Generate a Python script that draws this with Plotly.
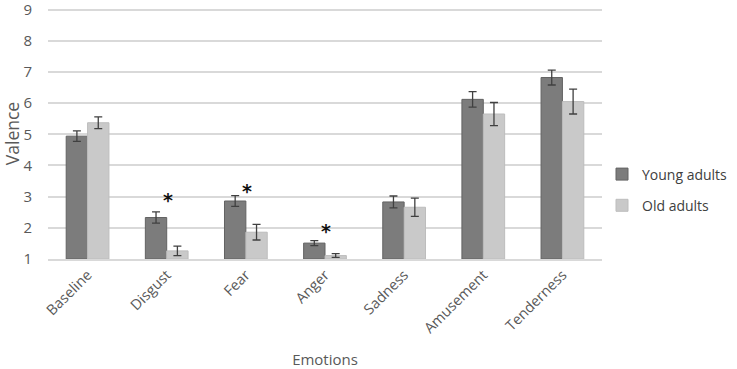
import plotly.graph_objects as go

categories = ["Baseline", "Disgust", "Fear", "Anger", "Sadness", "Amusement", "Tenderness"]
young = [4.94, 2.33, 2.86, 1.51, 2.83, 6.12, 6.82]
young_err = [0.17, 0.18, 0.17, 0.08, 0.19, 0.25, 0.24]
old = [5.37, 1.26, 1.86, 1.11, 2.66, 5.65, 6.05]
old_err = [0.19, 0.15, 0.25, 0.06, 0.29, 0.37, 0.40]
star_cats = ["Disgust", "Fear", "Anger"]
star_y = [2.89, 3.18, 1.90]
y_ticks = [1, 2, 3, 4, 5, 6, 7, 8, 9]

fig = go.Figure()
fig.add_trace(go.Bar(
    x=categories, y=[v - 1 for v in young], base=1, name="Young adults",
    legendgroup="a",
    marker=dict(color="#7c7c7c", line=dict(color="#636363", width=1)),
    error_y=dict(type="data", array=young_err, color="#404040", thickness=1.3, width=4),
))
fig.add_trace(go.Bar(
    x=categories, y=[v - 1 for v in old], base=1, name="Old adults",
    legendgroup="b",
    marker=dict(color="#c9c9c9", line=dict(color="#bdbdbd", width=1)),
    error_y=dict(type="data", array=old_err, color="#404040", thickness=1.3, width=4),
))

for c, yv in zip(star_cats, star_y):
    fig.add_annotation(x=c, y=yv, text="<b>*</b>", showarrow=False, xshift=1,
                       font=dict(size=19, color="#111111", family="DejaVu Sans"))

fig.update_layout(
    width=737, height=369,
    margin=dict(l=48, r=130, t=8, b=110),
    paper_bgcolor="white", plot_bgcolor="white",
    barmode="group", bargap=0.46, bargroupgap=0.0,
    font=dict(family="Open Sans", color="#595959", size=13),
    showlegend=True,
    legend=dict(xref="container", yref="container", x=602 / 737, y=(369 - 190) / 369,
                xanchor="left", yanchor="middle",
                font=dict(size=14, color="#404040"), traceorder="grouped",
                tracegroupgap=10, itemwidth=30),
    xaxis=dict(title=dict(text="Emotions", font=dict(size=15, color="#595959"), standoff=20),
               automargin=False,
               tickangle=-45, tickfont=dict(size=14.5, color="#595959"),
               showline=True, linecolor="#d9d9d9", linewidth=1.5, ticks=""),
    yaxis=dict(title=dict(text="Valence", font=dict(size=17.5, color="#595959"), standoff=8),
               automargin=False,
               range=[1, 9.05], tickvals=y_ticks,
               tickfont=dict(size=15, color="#595959"), ticklabelstandoff=15,
               ticklabeloverflow="allow",
               showgrid=True, gridcolor="#d9d9d9", gridwidth=1.5, zeroline=False,
               ticks=""),
)

fig.write_html("out.html", config={"displayModeBar": False},
               post_script="document.body.style.margin='0';")
